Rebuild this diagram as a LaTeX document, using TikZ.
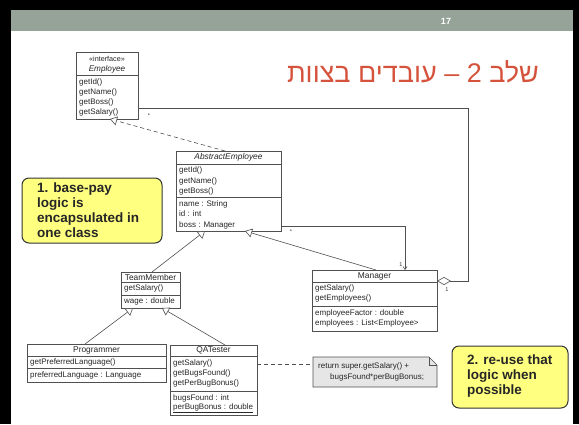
\documentclass[tikz,border=0pt]{standalone}
\usepackage{fontspec}
\setmainfont{Liberation Sans}
\newfontfamily\hebfont[Script=Hebrew]{Liberation Sans}
\TeXXeTstate=1
\usetikzlibrary{arrows.meta}

\definecolor{headbar}{HTML}{95A398}
\definecolor{titlered}{HTML}{D5533C}
\definecolor{umlline}{HTML}{505050}
\definecolor{calloutfill}{HTML}{FFFF80}
\definecolor{notefill}{HTML}{E6E6E6}

\tikzset{
  classbox/.style={draw=umlline, line width=0.7pt, fill=white, inner sep=0pt, outer sep=0pt, anchor=north west},
  sepline/.style={draw=umlline, line width=0.6pt},
  umltext/.style={inner sep=0pt, anchor=west, font=\fontsize{8}{9}\selectfont, text=black!85},
  umlhead/.style={inner sep=0pt, anchor=center, font=\fontsize{8.4}{9}\selectfont, text=black!85},
  assoc/.style={draw=umlline, line width=0.6pt},
  genarrow/.style={assoc, -{Triangle[open, length=7pt, width=9pt, fill=white]}},
  realarrow/.style={assoc, dashed, dash pattern=on 4pt off 3pt, -{Triangle[open, length=7pt, width=9pt, fill=white]}},
  navarrow/.style={assoc, -{Straight Barb[length=3pt, width=4pt]}},
  multlabel/.style={inner sep=0pt, font=\fontsize{5.5}{6}\selectfont, text=black!80},
  calloutbox/.style={draw=black!80, line width=1pt, fill=calloutfill, rounded corners=7pt, anchor=north west,
    inner sep=0pt, outer sep=0pt},
  callouttext/.style={anchor=west, align=left, inner sep=0pt,
    font=\fontsize{13.5}{15}\selectfont\bfseries, text=black!85},
}

\begin{document}
\begin{tikzpicture}[x=1pt, y=-1pt]
\path[use as bounding box] (0,0) rectangle (579,424);

% slide frame and header bar
\fill[white] (0,0) rectangle (579,424);
\fill[black] (0,0) rectangle (579,10);
\fill[black] (0,0) rectangle (11,424);
\fill[black] (573,0) rectangle (579,424);
\fill[headbar] (11,10) rectangle (573,31);
\node[inner sep=0pt, font=\fontsize{9}{10}\selectfont\bfseries, text=white] (pagenum) at (446,21) {17};

% title
\node[inner sep=0pt, font=\fontsize{27}{30}\selectfont, text=titlered] (title) at (413,72)
  {\hebfont\beginR שלב 2 – עובדים בצוות\endR};

% ---------- interface Employee ----------
\node[classbox, minimum width=62pt, minimum height=67pt] (employee) at (76,52) {};
\draw[sepline] (76,75) -- (138,75);
\node[umlhead, font=\fontsize{7.2}{8}\selectfont] (empster) at (107,59) {«interface»};
\node[umlhead, font=\fontsize{8.2}{9}\selectfont\itshape] (empname) at (107,69) {Employee};
\node[umltext] (emp1) at (79,82) {getId()};
\node[umltext] (emp2) at (79,92) {getName()};
\node[umltext] (emp3) at (79,102) {getBoss()};
\node[umltext] (emp4) at (79,112) {getSalary()};

% ---------- AbstractEmployee ----------
\node[classbox, minimum width=105pt, minimum height=80pt] (abstract) at (176,151) {};
\draw[sepline] (176,164) -- (281,164);
\draw[sepline] (176,197) -- (281,197);
\node[umlhead, font=\fontsize{8.4}{9}\selectfont\itshape] (absname) at (228.5,157.5) {AbstractEmployee};
\node[umltext] (abs1) at (179,170) {getId()};
\node[umltext] (abs2) at (179,181) {getName()};
\node[umltext] (abs3) at (179,191) {getBoss()};
\node[umltext] (abs4) at (179,204) {name : String};
\node[umltext] (abs5) at (179,214) {id : int};
\node[umltext] (abs6) at (179,225) {boss : Manager};

% ---------- Manager ----------
\node[classbox, minimum width=125pt, minimum height=61pt] (manager) at (312,270) {};
\draw[sepline] (312,282) -- (437,282);
\draw[sepline] (312,306) -- (437,306);
\node[umlhead] (mgrname) at (374.5,276) {Manager};
\node[umltext] (mgr1) at (315,288) {getSalary()};
\node[umltext] (mgr2) at (315,298) {getEmployees()};
\node[umltext] (mgr3) at (315,313) {employeeFactor : double};
\node[umltext] (mgr4) at (315,323) {employees : List<Employee>};

% ---------- TeamMember ----------
\node[classbox, minimum width=59pt, minimum height=36pt] (team) at (121,272) {};
\draw[sepline] (121,282) -- (180,282);
\draw[sepline] (121,295) -- (180,295);
\node[umlhead] (teamname) at (150.5,277) {TeamMember};
\node[umltext] (team1) at (124,288.5) {getSalary()};
\node[umltext] (team2) at (124,301.5) {wage : double};

% ---------- Programmer ----------
\node[classbox, minimum width=139pt, minimum height=38pt] (programmer) at (27,344) {};
\draw[sepline] (27,356) -- (166,356);
\draw[sepline] (27,368) -- (166,368);
\node[umlhead] (progname) at (96.5,350) {Programmer};
\node[umltext] (prog1) at (30,362) {getPreferredLanguage()};
\node[umltext] (prog2) at (30,375) {preferredLanguage : Language};

% ---------- QATester ----------
\node[classbox, minimum width=87pt, minimum height=70pt] (qatester) at (170,345) {};
\draw[sepline] (170,356) -- (257,356);
\draw[sepline] (170,391) -- (257,391);
\node[umlhead] (qaname) at (213.5,350.5) {QATester};
\node[umltext] (qa1) at (173,363) {getSalary()};
\node[umltext] (qa2) at (173,373) {getBugsFound()};
\node[umltext] (qa3) at (173,383) {getPerBugBonus()};
\node[umltext] (qa4) at (173,398) {bugsFound : int};
\node[umltext] (qa5) at (173,408) {\underline{perBugBonus : double}};

% ---------- note ----------
\node[inner sep=0pt, outer sep=0pt, anchor=north west, minimum width=124pt, minimum height=30pt] (note) at (313,357) {};
\draw[draw=umlline, line width=0.6pt, fill=notefill]
  (note.north west) -- ([xshift=-8pt]note.north east) -- ([yshift=-8pt]note.north east)
  -- (note.south east) -- (note.south west) -- cycle;
\draw[draw=umlline, line width=0.6pt]
  ([xshift=-8pt]note.north east) -- ([xshift=-8pt, yshift=-8pt]note.north east) -- ([yshift=-8pt]note.north east);
\node[umltext] (note1) at (318,366) {return super.getSalary() +};
\node[umltext] (note2) at (330,377) {bugsFound*perBugBonus;};

% ---------- connectors ----------
% realization AbstractEmployee -> Employee
\draw[realarrow] ([xshift=49pt]abstract.north west) -- ([xshift=34pt]employee.south west);
% generalizations
\draw[genarrow] ([xshift=31pt]team.north west) -- ([xshift=29pt]abstract.south west);
\draw[genarrow] ([xshift=64pt]manager.north west) -- ([xshift=69pt]abstract.south west);
\draw[genarrow] ([xshift=58pt]programmer.north west) -- ([xshift=12pt]team.south west);
\draw[genarrow] ([xshift=55pt]qatester.north west) -- ([xshift=41pt]team.south west);
% boss association
\draw[navarrow] ([yshift=5pt]abstract.south east) -| ([xshift=93pt]manager.north west);
\node[multlabel] (bossstar) at (291,232) {*};
\node[multlabel] (bossone) at (401,265) {1};
% employees aggregation
\coordinate (aggturn) at (468,281);
\draw[assoc, {Diamond[open, length=14pt, width=8pt, fill=white]}-] ([yshift=-11pt]manager.north east) -- (aggturn) |- ([yshift=11pt]employee.south east);
\node[multlabel] (aggstar) at (149,116) {*};
\node[multlabel] (aggone) at (447,290) {1};
% note anchor
\draw[assoc, dashed, dash pattern=on 4pt off 3pt] ([yshift=-19pt]qatester.north east) -- ([yshift=-7pt]note.north west);

% ---------- callouts ----------
\node[calloutbox, minimum width=140pt, minimum height=65pt] (callone) at (22,178) {};
\node[callouttext] (callonetext) at ([xshift=15pt]callone.west)
  {1. base-pay\\logic is\\encapsulated in\\one class};
\node[calloutbox, minimum width=116pt, minimum height=62pt] (calltwo) at (452,346) {};
\node[callouttext] (calltwotext) at ([xshift=15pt, yshift=1pt]calltwo.west)
  {2. re-use that\\logic when\\possible};
\end{tikzpicture}
\end{document}
